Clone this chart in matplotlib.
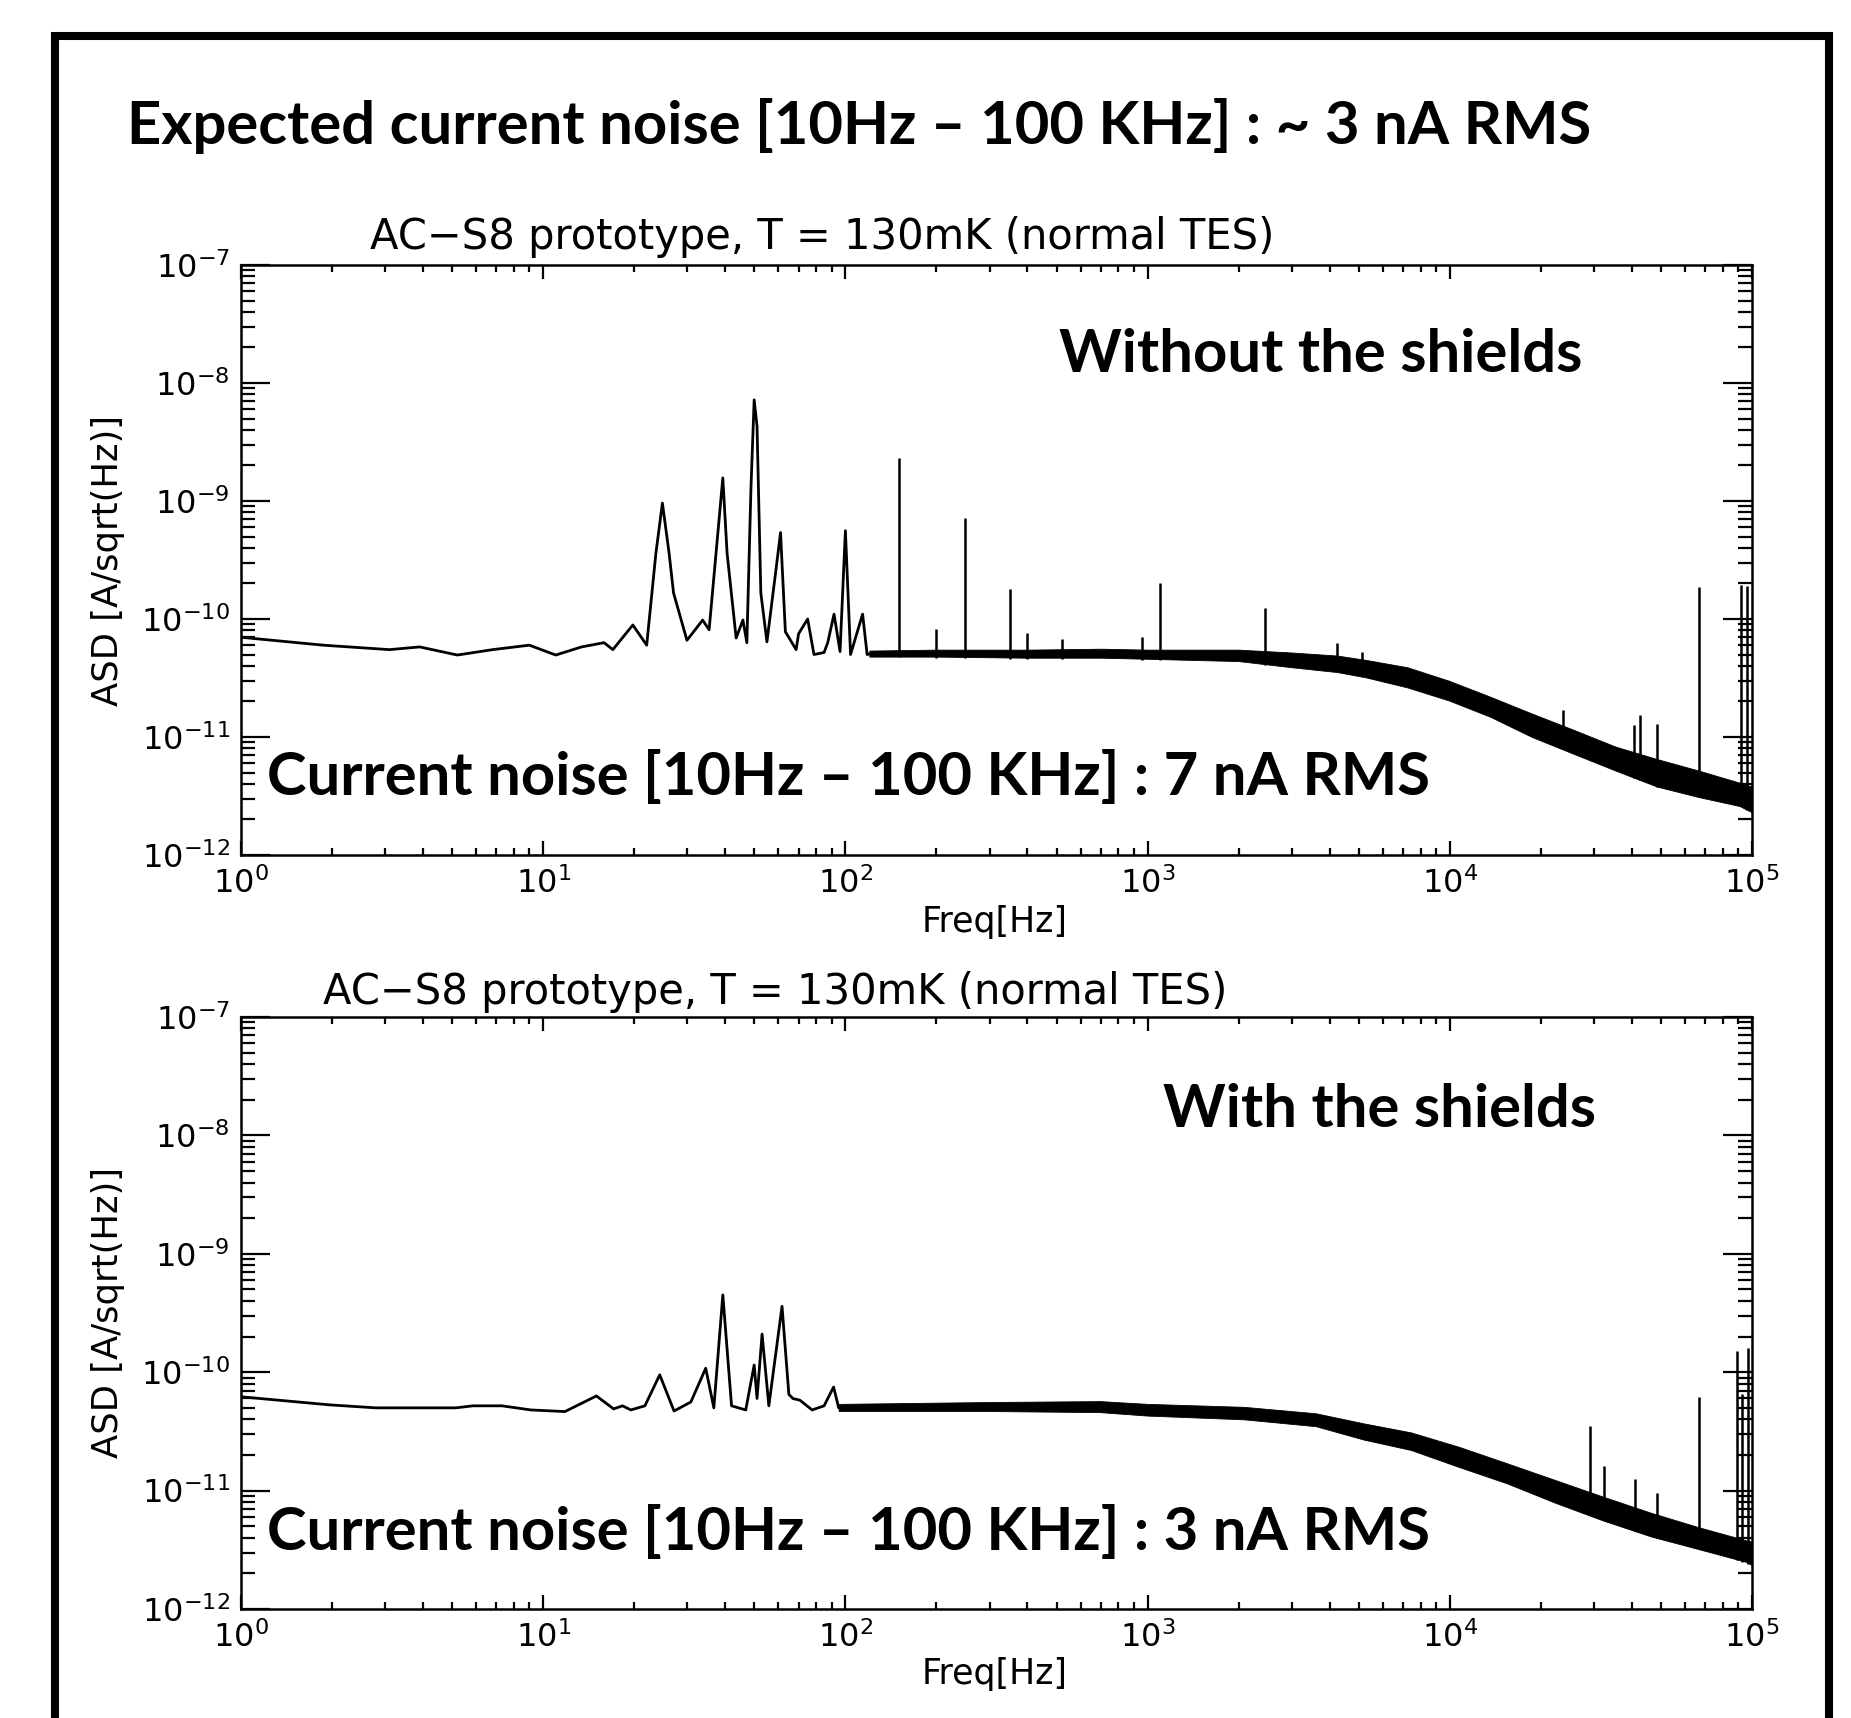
import numpy as np
import matplotlib
matplotlib.use("Agg")
import matplotlib.pyplot as plt
from matplotlib.patches import Rectangle
from matplotlib.ticker import LogLocator, NullFormatter

# ---- upper panel: without the shields ----
top_line_f = [1.0, 1.87, 3.1, 3.9, 5.2, 6.8, 9.0, 11.0, 13.4, 15.9, 17.0, 19.8, 22.0,
              23.6, 24.8, 26.1, 27.0, 29.9, 33.7, 35.4, 37.9, 39.3, 40.6, 43.5, 45.8,
              47.2, 48.7, 49.9, 51.0, 52.5, 55.0, 58.9, 61.0, 63.3, 68.7, 70.0, 75.0,
              78.7, 85.0, 87.4, 91.7, 96.0, 100.0, 104.0, 114.0, 118.0, 125.0]
top_line_v = [7.0e-11, 6.0e-11, 5.5e-11, 5.8e-11, 4.95e-11, 5.5e-11, 6.0e-11, 4.95e-11,
              5.8e-11, 6.3e-11, 5.5e-11, 8.9e-11, 6.0e-11,
              3.6e-10, 9.6e-10, 3.6e-10, 1.66e-10, 6.6e-11, 9.8e-11, 8.1e-11, 5.6e-10,
              1.57e-9, 3.6e-10, 6.9e-11, 9.8e-11,
              6.3e-11, 1.3e-9, 7.2e-9, 4.3e-9, 1.66e-10, 6.4e-11, 2.6e-10, 5.4e-10,
              7.8e-11, 5.5e-11, 7.5e-11, 1.0e-10,
              5.0e-11, 5.2e-11, 6.3e-11, 1.1e-10, 5.3e-11, 5.6e-10, 5.0e-11, 1.1e-10,
              5.0e-11, 5.2e-11]

top_band_f = [120, 200, 400, 700, 1000, 2000, 3000, 4240, 5280, 7240, 9930, 13640,
              18700, 25700, 35300, 48500, 66500, 91000, 100000]
top_band_lo = [4.8e-11, 4.8e-11, 4.7e-11, 4.7e-11, 4.6e-11, 4.4e-11, 3.9e-11, 3.55e-11,
               3.2e-11, 2.63e-11, 2.04e-11, 1.48e-11, 1.0e-11, 7.2e-12, 5.2e-12,
               3.8e-12, 3.1e-12, 2.6e-12, 2.3e-12]
top_band_hi = [5.4e-11, 5.5e-11, 5.5e-11, 5.6e-11, 5.5e-11, 5.5e-11, 5.2e-11, 4.9e-11,
               4.5e-11, 3.9e-11, 3.0e-11, 2.19e-11, 1.58e-11, 1.15e-11, 8.3e-12,
               6.5e-12, 5.2e-12, 4.1e-12, 3.8e-12]

top_spike_f = [150.7, 199.6, 249, 350, 399, 521, 956, 1100, 2450, 4240, 5120,
               23700, 40800, 42600, 48500, 67000, 92000, 96500]
top_spike_base = [4.8e-11, 4.7e-11, 4.7e-11, 4.6e-11, 4.6e-11, 4.6e-11, 4.5e-11,
                  4.5e-11, 4.1e-11, 3.6e-11, 3.3e-11, 8e-12, 4.5e-12, 4.3e-12,
                  3.8e-12, 3.1e-12, 2.6e-12, 2.4e-12]
top_spike_top = [2.3e-9, 8.3e-11, 7.2e-10, 1.8e-10, 7.6e-11, 6.8e-11, 7.0e-11,
                 2.0e-10, 1.25e-10, 6.3e-11, 5.3e-11, 1.7e-11, 1.26e-11, 1.55e-11,
                 1.3e-11, 1.86e-10, 1.95e-10, 1.9e-10]

# ---- lower panel: with the shields ----
bot_line_f = [1.0, 1.96, 2.79, 5.14, 5.86, 7.3, 9.1, 11.8, 15.0, 17.1, 18.3, 19.5,
              21.7, 24.3, 27.1, 30.8, 34.5, 36.7, 39.3, 42.0, 46.8, 49.9, 51.0, 53.0,
              55.8, 61.7, 65.0, 67.0, 70.7, 77.6, 85.0, 91.4, 95.0, 100.0]
bot_line_v = [6.2e-11, 5.3e-11, 5.0e-11, 5.0e-11, 5.2e-11, 5.2e-11, 4.8e-11, 4.65e-11,
              6.3e-11, 4.9e-11, 5.2e-11, 4.8e-11,
              5.2e-11, 9.5e-11, 4.7e-11, 5.6e-11, 1.08e-10, 5.0e-11, 4.5e-10, 5.2e-11,
              4.8e-11, 1.15e-10, 6.0e-11, 2.1e-10,
              5.2e-11, 3.6e-10, 6.5e-11, 6.0e-11, 5.8e-11, 4.8e-11, 5.2e-11, 7.5e-11,
              5.0e-11, 5.0e-11]

bot_band_f = [95, 300, 695, 1000, 2080, 3600, 5180, 7450, 10740, 15480, 22300,
              32100, 46300, 66700, 95600, 100000]
bot_band_lo = [4.7e-11, 4.7e-11, 4.6e-11, 4.3e-11, 4.0e-11, 3.5e-11, 2.7e-11, 2.2e-11,
               1.58e-11, 1.15e-11, 7.9e-12, 5.6e-12, 4.1e-12, 3.2e-12, 2.5e-12, 2.35e-12]
bot_band_hi = [5.4e-11, 5.6e-11, 5.7e-11, 5.4e-11, 5.1e-11, 4.5e-11, 3.7e-11, 3.1e-11,
               2.34e-11, 1.7e-11, 1.23e-11, 8.9e-12, 6.5e-12, 4.9e-12, 3.8e-12, 3.7e-12]

bot_spike_f = [29000, 32500, 41000, 48500, 66700, 89000, 93000, 97000]
bot_spike_base = [7e-12, 6e-12, 4.6e-12, 4e-12, 3.2e-12, 2.6e-12, 2.5e-12, 2.4e-12]
bot_spike_top = [3.5e-11, 1.6e-11, 1.26e-11, 9.5e-12, 6.2e-11, 1.5e-10, 6.6e-11, 1.6e-10]

title = "AC\u2212S8 prototype, T = 130mK (normal TES)"

W, H = 1851, 1718
fig = plt.figure(figsize=(W / 100, H / 100), dpi=100)


def fx(px):
    return px / W


def fy(py):
    return 1 - py / H


def make_panel(top, bottom, line_f, line_v, band_f, band_lo, band_hi, sp_f, sp_lo, sp_hi):
    ax = fig.add_axes([fx(241), fy(bottom), fx(1752) - fx(241), fy(top) - fy(bottom)])
    ax.set_xscale("log")
    ax.set_yscale("log")
    ax.set_xlim(1, 1e5)
    ax.set_ylim(1e-12, 1e-7)
    ax.plot(line_f, line_v, color="black", lw=2.0)
    ax.fill_between(band_f, band_lo, band_hi, color="black", lw=0.6)
    ax.vlines(sp_f, sp_lo, sp_hi, color="black", lw=1.8)
    for s in ax.spines.values():
        s.set_linewidth(1.8)
    ax.xaxis.set_minor_locator(LogLocator(base=10, subs=np.arange(2, 10), numticks=20))
    ax.yaxis.set_minor_locator(LogLocator(base=10, subs=np.arange(2, 10), numticks=20))
    ax.xaxis.set_minor_formatter(NullFormatter())
    ax.yaxis.set_minor_formatter(NullFormatter())
    ax.tick_params(which="both", direction="in", top=True, right=True,
                   labelsize=23, width=1.6)
    ax.tick_params(axis="x", which="major", length=10, pad=9)
    ax.tick_params(axis="x", which="minor", length=5)
    ax.tick_params(axis="y", which="major", length=21, pad=8)
    ax.tick_params(axis="y", which="minor", length=10)
    return ax


make_panel(265, 855, top_line_f, top_line_v, top_band_f, top_band_lo, top_band_hi,
           top_spike_f, top_spike_base, top_spike_top)
make_panel(1017, 1609, bot_line_f, bot_line_v, bot_band_f, bot_band_lo, bot_band_hi,
           bot_spike_f, bot_spike_base, bot_spike_top)

# IDL-style thin labels
fig.text(fx(822), fy(249), title, ha="center", va="baseline", fontsize=30)
fig.text(fx(775), fy(1004), title, ha="center", va="baseline", fontsize=30)
for yc in (561, 1313):
    fig.text(fx(108), fy(yc), "ASD [A/sqrt(Hz)]", rotation=90, ha="center", va="center",
             fontsize=25.5)
for yc in (922, 1674):
    fig.text(fx(995), fy(yc), "Freq[Hz]", ha="center", va="center", fontsize=25)

# bold slide annotations
bold = dict(family=["Lato", "DejaVu Sans"], fontweight="bold", fontsize=43,
            ha="left", va="baseline")
fig.text(fx(127), fy(144), "Expected current noise [10Hz \u2013 100 KHz] : ~ 3 nA RMS", **bold)
fig.text(fx(1059), fy(372), "Without the shields", **bold)
fig.text(fx(267), fy(795), "Current noise [10Hz \u2013 100 KHz] : 7 nA RMS", **bold)
fig.text(fx(1163), fy(1127), "With the shields", **bold)
fig.text(fx(267), fy(1550), "Current noise [10Hz \u2013 100 KHz] : 3 nA RMS", **bold)

# outer slide frame
fig.patches.append(Rectangle((fx(55), -0.02), fx(1829) - fx(55), fy(36) + 0.02,
                             transform=fig.transFigure, fill=False, lw=5.8,
                             edgecolor="black", clip_on=False))

fig.savefig("out.png", dpi=100)
